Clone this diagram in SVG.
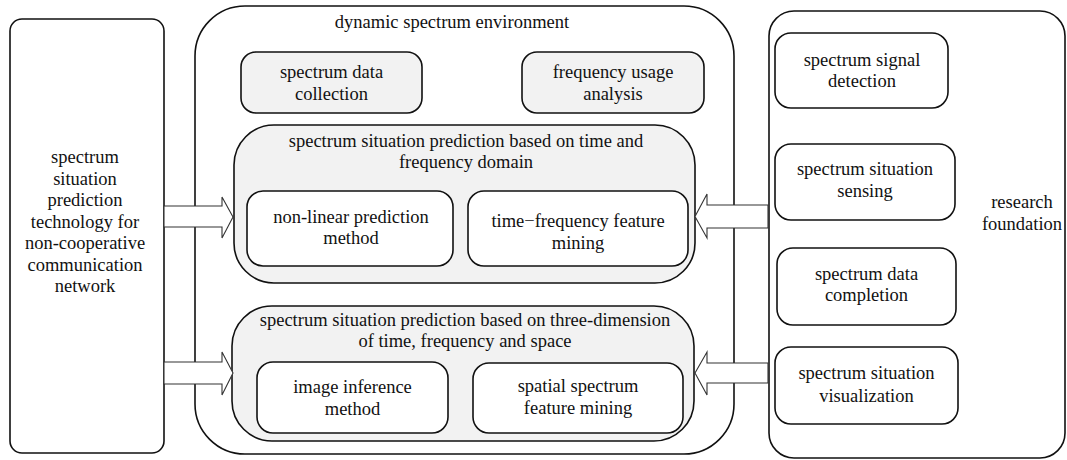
<svg xmlns="http://www.w3.org/2000/svg" width="1067" height="460" viewBox="0 0 1067 460">
<style>
text{font-family:"Liberation Serif","Times New Roman",serif;font-size:18.5px;fill:#111;text-anchor:middle}
.box{fill:#fff;stroke:#111;stroke-width:1.6}
.grey{fill:#f2f2f2;stroke:#111;stroke-width:1.6}
.arrow{fill:#fff;stroke:#333;stroke-width:1.1}
</style>
<rect width="1067" height="460" fill="#fff"/>
<g id="left-node">
<rect class="box" x="10" y="19" width="154" height="434" rx="12"/>
<text x="85" y="163">spectrum</text>
<text x="85" y="184.5">situation</text>
<text x="85" y="206">prediction</text>
<text x="85" y="227.5">technology for</text>
<text x="85" y="249">non-cooperative</text>
<text x="85" y="270.5">communication</text>
<text x="85" y="292">network</text>
</g>
<g id="env-node">
<rect class="box" x="195" y="6" width="539" height="448" rx="50"/>
<text x="452" y="28">dynamic spectrum environment</text>
</g>
<g id="collection-node">
<rect class="grey" x="241" y="52" width="181" height="61" rx="15"/>
<text x="331.5" y="78">spectrum data</text>
<text x="331.5" y="99.5">collection</text>
</g>
<g id="usage-node">
<rect class="grey" x="522" y="52" width="182" height="61" rx="15"/>
<text x="613" y="78">frequency usage</text>
<text x="613" y="99.5">analysis</text>
</g>
<g id="tf-node">
<rect class="grey" x="234" y="125" width="461" height="158" rx="40"/>
<text x="466" y="146.5">spectrum situation prediction based on time and</text>
<text x="466" y="168">frequency domain</text>
</g>
<g id="nonlinear-node">
<rect class="box" x="247" y="191" width="206" height="75" rx="16"/>
<text x="351" y="222.5">non-linear prediction</text>
<text x="351" y="244">method</text>
</g>
<g id="tfmining-node">
<rect class="box" x="468" y="191" width="220" height="75" rx="16"/>
<text x="578" y="227">time−frequency feature</text>
<text x="578" y="249">mining</text>
</g>
<g id="tfs-node">
<rect class="grey" x="232" y="306" width="462" height="135" rx="40"/>
<text x="465" y="325.5">spectrum situation prediction based on three-dimension</text>
<text x="465" y="346.5">of time, frequency and space</text>
</g>
<g id="image-node">
<rect class="box" x="257" y="362" width="191" height="71" rx="16"/>
<text x="352.5" y="393">image inference</text>
<text x="352.5" y="415">method</text>
</g>
<g id="spatial-node">
<rect class="box" x="473" y="363" width="210" height="70" rx="16"/>
<text x="578" y="392">spatial spectrum</text>
<text x="578" y="414">feature mining</text>
</g>
<g id="research-node">
<rect class="box" x="769" y="11" width="296" height="447" rx="25"/>
<text x="1022" y="208">research</text>
<text x="1022" y="230">foundation</text>
</g>
<g id="detection-node">
<rect class="box" x="775" y="33" width="173" height="75" rx="16"/>
<text x="862" y="66">spectrum signal</text>
<text x="862" y="87">detection</text>
</g>
<g id="sensing-node">
<rect class="box" x="775" y="144" width="180" height="76" rx="16"/>
<text x="865" y="175">spectrum situation</text>
<text x="865" y="197">sensing</text>
</g>
<g id="completion-node">
<rect class="box" x="777" y="248" width="179" height="77" rx="16"/>
<text x="866.5" y="280">spectrum data</text>
<text x="866.5" y="301">completion</text>
</g>
<g id="visualization-node">
<rect class="box" x="775" y="347" width="183" height="77" rx="16"/>
<text x="866.5" y="379">spectrum situation</text>
<text x="866.5" y="402">visualization</text>
</g>
<g id="connectors">
<polygon class="arrow" points="164,206 222,206 222,197 233,217 222,238 222,227 164,227"/>
<polygon class="arrow" points="164,362 222,362 222,352 233,373 222,395 222,384 164,384"/>
<polygon class="arrow" points="768,205 707,205 707,194 695,216.5 707,238 707,228 768,228"/>
<polygon class="arrow" points="768,363 707,363 707,352 695,373 707,395 707,383 768,383"/>
</g>
</svg>
